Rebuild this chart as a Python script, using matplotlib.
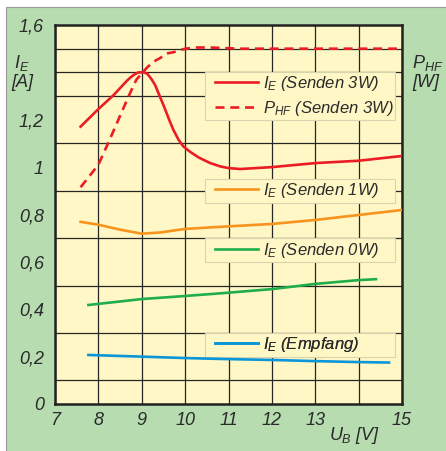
import matplotlib
matplotlib.use("Agg")
import matplotlib.pyplot as plt
from matplotlib.patches import Rectangle
from matplotlib.lines import Line2D
from matplotlib.ticker import FixedLocator, NullLocator

# ---- data -------------------------------------------------------------
ub_3w = [7.59, 8.0, 8.35, 8.65, 8.73, 8.82, 8.92, 9.05, 9.13, 9.23, 9.31,
         9.42, 9.5, 9.65, 9.73, 9.85, 9.96, 10.12, 10.31, 10.58, 10.81,
         11.0, 11.27, 12.0, 13.0, 14.0, 15.0]
ie_3w = [1.171, 1.245, 1.304, 1.363, 1.377, 1.39, 1.40, 1.40, 1.394, 1.37,
         1.346, 1.297, 1.262, 1.192, 1.157, 1.115, 1.087, 1.064, 1.041,
         1.017, 1.003, 0.996, 0.992, 1.0, 1.017, 1.027, 1.047]

ub_phf = [7.59, 8.0, 8.27, 8.58, 8.81, 8.88, 9.0, 9.12, 9.27, 9.42, 9.58,
          9.73, 10.0, 10.27, 10.58, 11.27, 12.0, 13.0, 14.0, 15.0]
phf_3w = [1.83, 2.02, 2.24, 2.50, 2.69, 2.74, 2.79, 2.84, 2.89, 2.92, 2.96,
          2.97, 3.0, 3.01, 3.01, 3.0, 3.0, 3.0, 3.0, 3.0]

ub_1w = [7.59, 8.0, 8.5, 9.0, 9.42, 10.0, 11.0, 12.0, 13.0, 14.0, 15.0]
ie_1w = [0.769, 0.757, 0.736, 0.719, 0.724, 0.739, 0.75, 0.76, 0.777, 0.798, 0.819]

ub_0w = [7.77, 9.0, 10.0, 10.87, 12.0, 13.0, 14.0, 14.4]
ie_0w = [0.418, 0.443, 0.456, 0.468, 0.485, 0.507, 0.523, 0.527]

ub_rx = [7.77, 9.0, 10.0, 10.87, 12.0, 13.0, 14.0, 14.7]
ie_rx = [0.207, 0.20, 0.194, 0.19, 0.186, 0.181, 0.177, 0.175]

x_ticks = [7, 8, 9, 10, 11, 12, 13, 14, 15]
x_labels = ["7", "8", "9", "10", "11", "12", "13", "", "15"]
left_ticks = [0, 0.2, 0.4, 0.6, 0.8, 1.0, 1.2, 1.6]
left_labels = ["0", "0,2", "0,4", "0,6", "0,8", "1", "1,2", "1,6"]
right_ticks = [0, 0.4, 0.8, 1.2, 1.6, 2.0, 2.4, 3.2]
right_labels = ["0", "0,4", "0,8", "1,2", "1,6", "2", "2,4", "3,2"]

# ---- style ------------------------------------------------------------
FONT = ["Liberation Sans", "DejaVu Sans"]
plt.rcParams["font.family"] = FONT
plt.rcParams["font.style"] = "italic"
plt.rcParams["mathtext.fontset"] = "custom"
plt.rcParams["mathtext.rm"] = "Liberation Sans:italic"
plt.rcParams["mathtext.it"] = "Liberation Sans:italic"

TXT = "#2a2a2a"
BG_GREEN = "#b6dcb0"
PLOT_YELLOW = "#fff8c6"
RED = "#ec1c24"
ORANGE = "#f7941d"
GREEN = "#1fae4b"
BLUE = "#0a96d8"
LW = 1.9
FS = 13
LEG_FS = 12
DASH = (0, (3.4, 2.2))

W, H = 446, 451
fig = plt.figure(figsize=(W / 100, H / 100), dpi=100, facecolor="white")

# green panel with thin grey outline
fig.patches.append(Rectangle((6 / W, -0.01), 1.0, (H - 7) / H + 0.01,
                             transform=fig.transFigure, facecolor=BG_GREEN,
                             edgecolor="#9a9a9a", linewidth=0.8, zorder=0))

left, right, bottom, top = 55 / W, 402 / W, (H - 404) / H, (H - 25) / H
ax = fig.add_axes([left, bottom, right - left, top - bottom])
ax.set_facecolor(PLOT_YELLOW)
ax.set_xlim(7, 15)
ax.set_ylim(0, 1.6)

# grid every 1 V and every 0.1 A
ax.xaxis.set_major_locator(FixedLocator(x_ticks))
ax.xaxis.set_minor_locator(NullLocator())
ax.set_xticklabels(x_labels)
ax.yaxis.set_major_locator(FixedLocator(left_ticks))
ax.yaxis.set_minor_locator(FixedLocator([0.1 * i for i in range(17)]))
ax.set_yticklabels(left_labels)
ax.grid(True, which="major", axis="x", color="#262626", linewidth=0.9)
ax.grid(True, which="minor", axis="y", color="#262626", linewidth=0.9)
ax.set_axisbelow(True)
ax.tick_params(which="both", length=0)
ax.tick_params(axis="x", pad=6, labelsize=FS, labelcolor=TXT)
ax.tick_params(axis="y", pad=8, labelsize=FS, labelcolor=TXT)
for s in ax.spines.values():
    s.set_color("#222222")
    s.set_linewidth(1.8)

# right-hand scale for P_HF
ax2 = ax.twinx()
ax2.set_ylim(0, 3.2)
ax2.yaxis.set_major_locator(FixedLocator(right_ticks))
ax2.set_yticklabels(right_labels)
ax2.tick_params(length=0, pad=6, labelsize=FS, labelcolor=TXT)
for s in ax2.spines.values():
    s.set_visible(False)
ax.set_zorder(ax2.get_zorder() + 1)
ax2.patch.set_visible(False)

# legend boxes (axes-x fraction, data-y span)
box_x0, box_x1 = (205 - 55) / 347, (395 - 55) / 347
boxes = [(1.2, 1.4), (0.85, 0.95), (0.6, 0.7), (0.2, 0.3)]
for y0, y1 in boxes:
    ax.add_patch(Rectangle((box_x0, y0), box_x1 - box_x0, y1 - y0,
                           transform=ax.get_yaxis_transform(),
                           facecolor=PLOT_YELLOW, edgecolor="#d8d4b0",
                           linewidth=0.8, zorder=1.2))

# curves (P_HF drawn in the right-hand scale)
ax.plot(ub_3w, ie_3w, color=RED, lw=LW, zorder=3)
ax.add_line(Line2D(ub_phf, phf_3w, color=RED, lw=LW, ls=DASH,
                   transform=ax2.transData, zorder=3))
ax.plot(ub_1w, ie_1w, color=ORANGE, lw=LW, zorder=3)
ax.plot(ub_0w, ie_0w, color=GREEN, lw=LW, zorder=3)
ax.plot(ub_rx, ie_rx, color=BLUE, lw=LW, zorder=3)


def legend_at(entries, y0, y1):
    handles = [Line2D([], [], color=c, lw=LW, ls=ls) for c, ls, _ in entries]
    labels = [t for _, _, t in entries]
    leg = ax.legend(handles, labels, loc="center left",
                    bbox_to_anchor=(box_x0, (y0 + y1) / 2 / 1.6),
                    bbox_transform=ax.transAxes, frameon=False,
                    fontsize=LEG_FS, handlelength=2.6, handletextpad=0.3,
                    borderpad=0.0, borderaxespad=0.6, labelspacing=0.35,
                    labelcolor=TXT)
    leg.set_zorder(4)
    ax.add_artist(leg)


legend_at([(RED, "-", r"$I_E$ (Senden 3W)"),
           (RED, DASH, r"$P_{HF}$ (Senden 3W)")], 1.2, 1.4)
legend_at([(ORANGE, "-", r"$I_E$ (Senden 1W)")], 0.85, 0.95)
legend_at([(GREEN, "-", r"$I_E$ (Senden 0W)")], 0.6, 0.7)
legend_at([(BLUE, "-", r"$I_E$ (Empfang)")], 0.2, 0.3)

# axis titles
fig.text(22 / W, 1 - 72 / H, "$I_E$\n[A]", ha="center", va="center",
         fontsize=FS, color=TXT, linespacing=1.15)
fig.text(412 / W, 1 - 72 / H, "$P_{HF}$\n[W]", ha="left", va="center",
         fontsize=FS, color=TXT, linespacing=1.15)
fig.text(355 / W, 1 - 435 / H, "$U_B$ [V]", ha="center", va="center",
         fontsize=FS, color=TXT)

fig.savefig("out.png", dpi=100, facecolor="white")
